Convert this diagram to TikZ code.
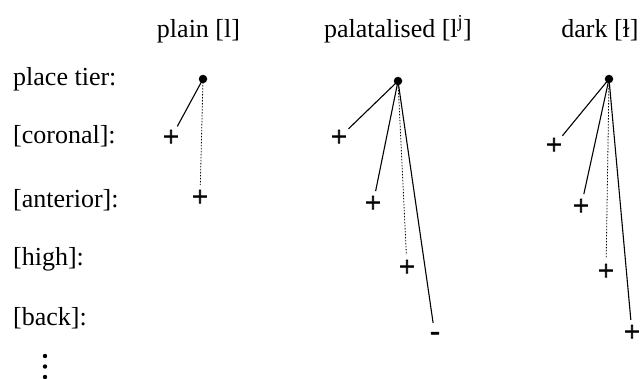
\documentclass[tikz,border=0pt]{standalone}
\usepackage{fontspec}
\setmainfont{Liberation Serif}
\newfontfamily\valfont[FakeBold=3]{Liberation Serif}
\begin{document}
\begin{tikzpicture}[x=1pt,y=-1pt,
  txt/.style={font=\fontsize{26}{30}\selectfont, inner sep=0pt},
  lab/.style={txt, anchor=base west},
  head/.style={txt, anchor=base},
  pt/.style={circle, fill=black, inner sep=0pt, minimum size=8.5pt},
  val/.style={circle, minimum size=26pt, inner sep=0pt, font=\fontsize{28}{30}\valfont},
  link/.style={line width=1.1pt},
  dlink/.style={line width=0.8pt, dash pattern=on 1.5pt off 1.5pt}]
\useasboundingbox (0,0) rectangle (642,378);

% headers
\node[head] (h1) at (198.5,37) {plain [l]};
\node[head] (h2) at (398,37) {palatalised [l\textsuperscript{j}]};
\node[head] (h3) at (600,37) {dark [ɫ]};

% row labels
\node[lab] (r0) at (13,85) {place tier:};
\node[lab] (r1) at (13,143) {[coronal]:};
\node[lab] (r2) at (13,207) {[anterior]:};
\node[lab] (r3) at (13,265) {[high]:};
\node[lab] (r4) at (13,325) {[back]:};
\fill (45,356) circle (2.2);
\fill (45,366.5) circle (2.2);
\fill (45,377) circle (2.2);

% plain
\node[pt] (d1) at (203,79) {};
\node[val] (p1c) at (171,138) {+};
\node[val] (p1a) at (200,198) {+};
\draw[link] (d1.center) -- (p1c);
\draw[dlink] (d1.center) -- (p1a);

% palatalised
\node[pt] (d2) at (398,81) {};
\node[val] (p2c) at (339,138) {+};
\node[val] (p2a) at (373,204) {+};
\node[val] (p2h) at (407,268) {+};
\node[val] (p2b) at (435,336) {-};
\draw[link] (d2.center) -- (p2c);
\draw[link] (d2.center) -- (p2a);
\draw[dlink] (d2.center) -- (p2h);
\draw[link] (d2.center) -- (p2b);

% dark
\node[pt] (d3) at (609,79) {};
\node[val] (p3c) at (554,146) {+};
\node[val] (p3a) at (581,207) {+};
\node[val] (p3h) at (606,272) {+};
\node[val] (p3b) at (632,333) {+};
\draw[link] (d3.center) -- (p3c);
\draw[link] (d3.center) -- (p3a);
\draw[dlink] (d3.center) -- (p3h);
\draw[link] (d3.center) -- (p3b);
\end{tikzpicture}
\end{document}
